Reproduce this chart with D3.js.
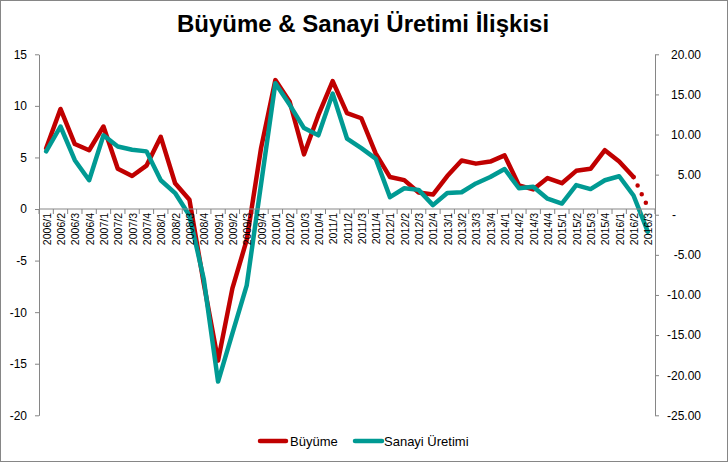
<!DOCTYPE html>
<html>
<head>
<meta charset="utf-8">
<script src="https://cdn.jsdelivr.net/npm/d3@7"></script>
<style>
  html, body { margin: 0; padding: 0; background: #fff; }
  svg { display: block; font-family: "Liberation Sans", Arial, sans-serif; }
</style>
</head>
<body>
<svg id="chart" width="728" height="462"></svg>
<script>
// ---- data ----
const title = "Büyüme & Sanayi Üretimi İlişkisi";
const categories = [
  "2006/1","2006/2","2006/3","2006/4",
  "2007/1","2007/2","2007/3","2007/4",
  "2008/1","2008/2","2008/3","2008/4",
  "2009/1","2009/2","2009/3","2009/4",
  "2010/1","2010/2","2010/3","2010/4",
  "2011/1","2011/2","2011/3","2011/4",
  "2012/1","2012/2","2012/3","2012/4",
  "2013/1","2013/2","2013/3","2013/4",
  "2014/1","2014/2","2014/3","2014/4",
  "2015/1","2015/2","2015/3","2015/4",
  "2016/1","2016/2","2016/3"
];
// Büyüme (left axis); last point is drawn dotted
const buyume = [
  5.9, 9.7, 6.3, 5.7,
  8.0, 3.9, 3.2, 4.2,
  7.0, 2.5, 0.9, -7.2,
  -14.7, -7.7, -3.0, 5.9,
  12.5, 10.4, 5.3, 9.1,
  12.4, 9.3, 8.8, 5.4,
  3.1, 2.8, 1.6, 1.4,
  3.2, 4.7, 4.4, 4.6,
  5.2, 2.3, 1.9, 3.0,
  2.5, 3.7, 3.9, 5.7,
  4.6, 3.1, 0.2
];
// Sanayi Üretimi (right axis)
const sanayi = [
  7.9, 11.0, 6.8, 4.3,
  9.9, 8.5, 8.1, 7.9,
  4.3, 2.7, -0.1, -8.0,
  -20.8, -14.8, -8.8, 3.8,
  16.4, 13.7, 10.8, 9.9,
  15.1, 9.5, 8.3, 7.0,
  2.2, 3.3, 3.1, 1.2,
  2.7, 2.8, 3.9, 4.7,
  5.7, 3.3, 3.5, 2.0,
  1.4, 3.7, 3.2, 4.3,
  4.8, 2.4, -2.1
];
const leftTicks = [-20, -15, -10, -5, 0, 5, 10, 15];
const rightTicks = [-25, -20, -15, -10, -5, 0, 5, 10, 15, 20];
const seriesNames = ["Büyüme", "Sanayi Üretimi"];
const colors = ["#C00000", "#009A93"];

// ---- layout ----
const svg = d3.select("#chart");
const W = 728, H = 462;
const plot = { left: 39, right: 655, top: 54.3, bottom: 415.3 };

svg.append("rect").attr("x", 0.5).attr("y", 0.5).attr("width", W - 1).attr("height", H - 1)
  .attr("fill", "#fff").attr("stroke", "#868686").attr("stroke-width", 1);

svg.append("text").attr("x", 363).attr("y", 32).attr("text-anchor", "middle")
  .attr("font-size", 24).attr("font-weight", "bold").attr("fill", "#000").text(title);

const x = d3.scaleBand().domain(categories).range([plot.left, plot.right]).padding(0);
const yL = d3.scaleLinear().domain([-20, 15]).range([plot.bottom, plot.top]);
const yR = d3.scaleLinear().domain([-25, 20]).range([plot.bottom, plot.top]);
const cx = c => x(c) + x.bandwidth() / 2;

const lineL = d3.line().x(d => cx(d.c)).y(d => yL(d.v));
const lineR = d3.line().x(d => cx(d.c)).y(d => yR(d.v));

const redPts = categories.map((c, i) => ({ c, v: buyume[i] }));
const tealPts = categories.map((c, i) => ({ c, v: sanayi[i] }));
const n = categories.length;

const gLines = svg.append("g");
gLines.append("path").datum(redPts.slice(n - 2))
  .attr("d", lineL).attr("fill", "none").attr("stroke", colors[0])
  .attr("stroke-width", 4.5).attr("stroke-linecap", "round")
  .attr("stroke-dasharray", "0 9.5");
gLines.append("path").datum(redPts.slice(0, n - 1))
  .attr("d", lineL).attr("fill", "none").attr("stroke", colors[0])
  .attr("stroke-width", 4.5).attr("stroke-linejoin", "round").attr("stroke-linecap", "round");
gLines.append("path").datum(tealPts)
  .attr("d", lineR).attr("fill", "none").attr("stroke", colors[1])
  .attr("stroke-width", 4.5).attr("stroke-linejoin", "round").attr("stroke-linecap", "round");

// left axis
const axL = svg.append("g").attr("transform", `translate(${plot.left},0)`)
  .call(d3.axisLeft(yL).tickValues(leftTicks).tickSize(4).tickSizeOuter(0).tickPadding(8)
    .tickFormat(d => String(d)));
// right axis
const axR = svg.append("g").attr("transform", `translate(${plot.right},0)`)
  .call(d3.axisRight(yR).tickValues(rightTicks).tickSize(4).tickSizeOuter(0).tickPadding(12)
    .tickFormat(d => d === 0 ? "-" : d.toFixed(2)));
axR.selectAll(".tick text").attr("text-anchor", d => d === 0 ? "start" : "end")
  .attr("x", d => d === 0 ? 17 : 46);

[axL, axR].forEach(a => {
  a.select(".domain").attr("stroke", "#868686");
  a.selectAll(".tick line").attr("stroke", "#868686");
  a.selectAll(".tick text").attr("font-size", 12).attr("fill", "#000")
    .attr("font-family", "Liberation Sans, Arial, sans-serif");
});

// category (x) axis at y = 0 of left axis
const y0 = yL(0);
const axX = svg.append("g");
axX.append("line").attr("x1", plot.left).attr("x2", plot.right).attr("y1", y0).attr("y2", y0)
  .attr("stroke", "#868686");
const bounds = categories.map(c => x(c)).concat([plot.right]);
axX.selectAll("line.tk").data(bounds).enter().append("line").attr("class", "tk")
  .attr("x1", d => d).attr("x2", d => d).attr("y1", y0).attr("y2", y0 + 5)
  .attr("stroke", "#868686");
axX.selectAll("text").data(categories).enter().append("text")
  .attr("transform", c => `translate(${cx(c) + 0.5},${y0 + 4}) rotate(-90)`)
  .attr("text-anchor", "end").attr("dominant-baseline", "central")
  .attr("font-size", 10.5).attr("fill", "#000").text(c => c);

// legend
const legend = [
  { name: seriesNames[0], color: colors[0], x1: 260, x2: 286, tx: 290 },
  { name: seriesNames[1], color: colors[1], x1: 355, x2: 382, tx: 384 }
];
const gl = svg.append("g");
legend.forEach(l => {
  gl.append("line").attr("x1", l.x1).attr("x2", l.x2).attr("y1", 441).attr("y2", 441)
    .attr("stroke", l.color).attr("stroke-width", 4.5).attr("stroke-linecap", "round");
  gl.append("text").attr("x", l.tx).attr("y", 446).attr("font-size", 13).attr("fill", "#000").text(l.name);
});
</script>
</body>
</html>
